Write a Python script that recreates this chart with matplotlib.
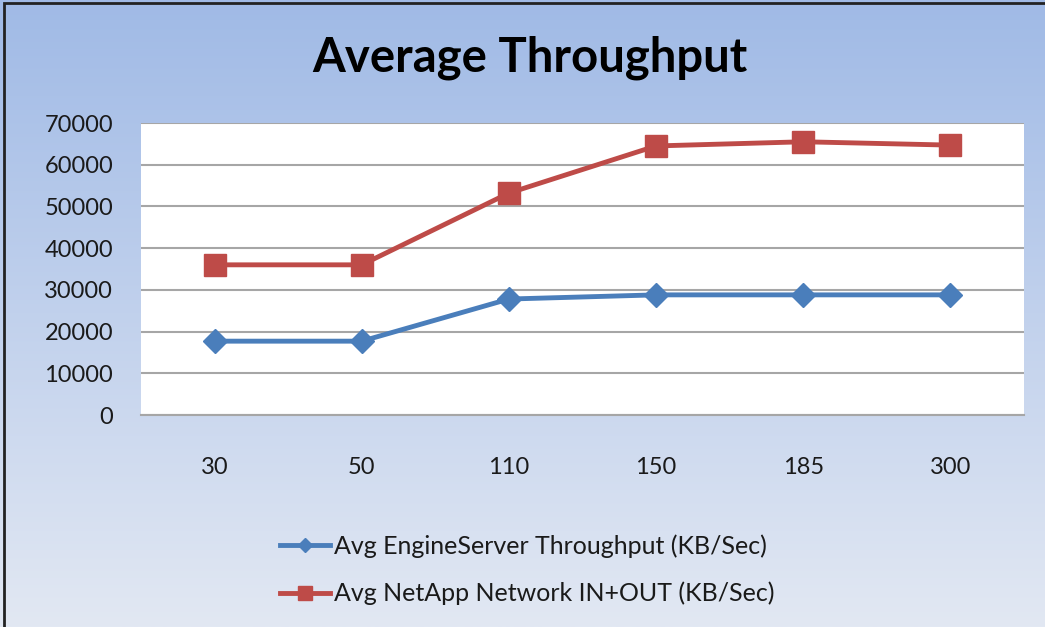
import numpy as np
import matplotlib.pyplot as plt
from matplotlib.patches import Rectangle

# ------------------------------------------------------------
# Data
# ------------------------------------------------------------
users = ["30", "50", "110", "150", "185", "300"]
engine_kbps = [17700, 17700, 27800, 28800, 28800, 28800]
netapp_kbps = [36000, 36000, 53200, 64500, 65500, 64700]

yticks = [0, 10000, 20000, 30000, 40000, 50000, 60000, 70000]

plt.rcParams["font.family"] = ["Lato", "DejaVu Sans"]

W, H = 1045, 627
fig = plt.figure(figsize=(W / 100, H / 100), dpi=100)

# gradient background over the whole chart area
bg = fig.add_axes([0, 0, 1, 1], zorder=-10)
top = np.array([160, 186, 230]) / 255.0
bottom = np.array([226, 232, 243]) / 255.0
t = np.linspace(0, 1, 256)[:, None]
grad = top[None, :] * (1 - t) + bottom[None, :] * t
bg.imshow(grad[:, None, :], aspect="auto", extent=[0, 1, 0, 1])
bg.add_patch(Rectangle((4 / W, -0.01), 1.1, (H - 3) / H + 0.01, fill=False,
                       edgecolor="#222222", linewidth=2, transform=bg.transAxes))
bg.set_xlim(0, 1)
bg.set_ylim(0, 1)
bg.axis("off")

# plot area in pixel coordinates
x0, x1 = 141, 1024
y0, y1 = 123, 415
ax = fig.add_axes([x0 / W, 1 - y1 / H, (x1 - x0) / W, (y1 - y0) / H])
ax.set_facecolor("white")

x = np.arange(len(users))
ax.plot(x, engine_kbps, color="#4a7ebb", linewidth=3.5, marker="D",
        markersize=12, label="Avg EngineServer Throughput (KB/Sec)", zorder=3)
ax.plot(x, netapp_kbps, color="#be4b48", linewidth=3.5, marker="s",
        markersize=16, label="Avg NetApp Network IN+OUT (KB/Sec)", zorder=3)

ax.set_xlim(-0.5, len(users) - 0.5)
ax.set_ylim(0, 70000)
ax.set_yticks(yticks)
ax.set_yticklabels([str(v) for v in yticks])
ax.set_xticks(x)
ax.set_xticklabels(users)
ax.tick_params(axis="both", length=0, labelsize=17, colors="#1a1a1a")
ax.tick_params(axis="x", pad=30)
ax.tick_params(axis="y", pad=20)
ax.grid(axis="y", color="#a6a6a6", linewidth=1.5)
ax.set_axisbelow(True)
for side in ["left", "right", "top"]:
    ax.spines[side].set_visible(False)
ax.spines["bottom"].set_color("#a6a6a6")
ax.spines["bottom"].set_linewidth(1.5)

fig.text(530 / W, 1 - 58 / H, "Average Throughput", ha="center", va="center",
         fontsize=34, fontweight="bold", color="black")

handles, labels = ax.get_legend_handles_labels()
fig.legend(handles, labels, loc="upper left", bbox_to_anchor=(257 / W, 1 - 512 / H),
           frameon=False, fontsize=18, handlelength=2.0, labelspacing=0.95,
           handletextpad=0.2, markerscale=0.6, labelcolor="#1a1a1a")

fig.savefig("out.png", dpi=100)
